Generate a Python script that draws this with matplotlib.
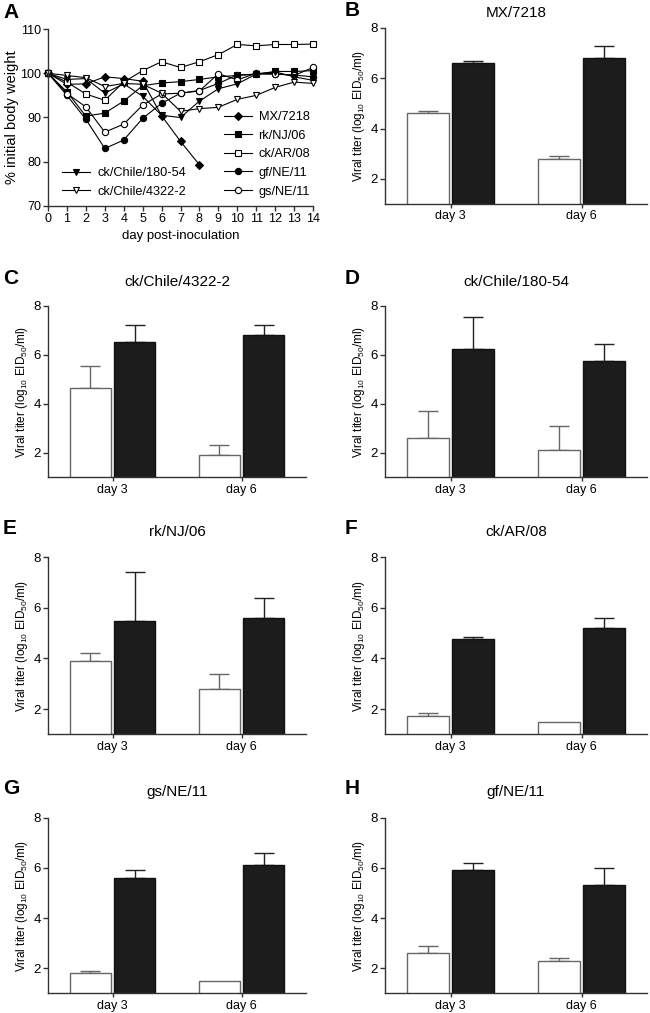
import numpy as np
import matplotlib
matplotlib.use('Agg')
import matplotlib.pyplot as plt

plt.rcParams['font.family'] = ['Liberation Sans', 'DejaVu Sans']
plt.rcParams['mathtext.fontset'] = 'custom'
plt.rcParams['mathtext.rm'] = 'Liberation Sans'
plt.rcParams['mathtext.it'] = 'Liberation Sans'
plt.rcParams['axes.linewidth'] = 1.0

# ---- panel A: body weight ----
days = np.arange(15)
mx7218 = [100, 97.5, 97.6, 99.2, 98.8, 98.2, 90.4, 84.6, 79.3]
rknj06 = [100, 95.8, 90.3, 91.0, 93.7, 97.2, 97.8, 98.1, 98.6, 99.2, 99.5, 99.8, 100.4, 100.4, 100.6]
ckar08 = [100, 98.0, 95.3, 93.9, 98.0, 100.6, 102.6, 101.3, 102.6, 104.2, 106.5, 106.2, 106.5, 106.5, 106.6]
gfne11 = [100, 95.0, 89.6, 83.0, 84.9, 89.8, 93.2, 95.5, 96.1, 97.7, 99.6, 99.8, 99.8, 99.6, 99.2]
gsne11 = [100, 95.4, 92.4, 86.7, 88.5, 92.8, 95.3, 95.5, 96.0, 99.9, 98.5, 100.0, 99.9, 99.5, 101.3]
chile18054 = [100, 98.6, 98.8, 95.5, 97.6, 94.8, 90.5, 90.0, 93.7, 96.5, 97.6, 99.8, 100.3, 99.2, 98.4]
chile4322 = [100, 99.5, 99.0, 97.0, 97.7, 97.5, 95.5, 91.4, 92.0, 92.3, 94.1, 95.0, 96.8, 98.0, 97.7]

# ---- panels B-H: viral titers (white / black bars) ----
groups = ['day 3', 'day 6']
bar_titles = ['MX/7218', 'ck/Chile/4322-2', 'ck/Chile/180-54', 'rk/NJ/06',
              'ck/AR/08', 'gs/NE/11', 'gf/NE/11']
bar_letters = ['B', 'C', 'D', 'E', 'F', 'G', 'H']
white_vals = [[4.6, 2.8], [4.65, 1.9], [2.6, 2.1], [3.9, 2.8], [1.72, 1.5], [1.8, 1.5], [2.6, 2.3]]
white_err = [[0.1, 0.1], [0.9, 0.4], [1.1, 1.0], [0.3, 0.6], [0.13, 0.0], [0.1, 0.0], [0.3, 0.1]]
black_vals = [[6.6, 6.8], [6.5, 6.82], [6.25, 5.75], [5.5, 5.6], [4.75, 5.2], [5.6, 6.1], [5.9, 5.3]]
black_err = [[0.1, 0.5], [0.72, 0.4], [1.3, 0.7], [1.9, 0.8], [0.1, 0.4], [0.3, 0.5], [0.3, 0.7]]

W, H = 650, 1013
fig = plt.figure(figsize=(W / 100, H / 100), dpi=100)

def px_axes(left, top, right, bottom):
    return fig.add_axes([left / W, 1 - bottom / H, (right - left) / W, (bottom - top) / H])

SPINE = '#333333'

def style(ax):
    for s in ['top', 'right']:
        ax.spines[s].set_visible(False)
    for s in ['left', 'bottom']:
        ax.spines[s].set_color(SPINE)
    ax.tick_params(direction='out', length=3.5, width=1.0, color=SPINE)

# panel A
axA = px_axes(48, 29, 313, 206)
style(axA)
series = [
    (mx7218, 'D', 'k', 'MX/7218', 4.2),
    (rknj06, 's', 'k', 'rk/NJ/06', 4.5),
    (ckar08, 's', 'w', 'ck/AR/08', 4.5),
    (gfne11, 'o', 'k', 'gf/NE/11', 4.5),
    (gsne11, 'o', 'w', 'gs/NE/11', 4.5),
    (chile18054, 'v', 'k', 'ck/Chile/180-54', 5),
    (chile4322, 'v', 'w', 'ck/Chile/4322-2', 5),
]
handles = {}
for vals, mk, fc, lab, ms in series:
    h, = axA.plot(days[:len(vals)], vals, marker=mk, color='k', mfc=fc, mec='k',
                  lw=0.8, ms=ms, mew=0.8, label=lab, clip_on=False)
    handles[lab] = h
axA.set_xlim(0, 14)
axA.set_ylim(70, 110)
axA.set_xticks(days)
axA.set_yticks([70, 80, 90, 100, 110])
axA.tick_params(labelsize=9, pad=1.5)
axA.set_xlabel('day post-inoculation', fontsize=9.5, labelpad=4)
axA.set_ylabel('% initial body weight', fontsize=10.5, labelpad=1)
right_labels = ['MX/7218', 'rk/NJ/06', 'ck/AR/08', 'gf/NE/11', 'gs/NE/11']
leg1 = axA.legend([handles[k] for k in right_labels], right_labels,
                  loc='upper left', bbox_to_anchor=(224 / W, 1 - 111 / H), bbox_transform=fig.transFigure,
                  frameon=False, fontsize=9.2, handlelength=2.2, handletextpad=0.5,
                  labelspacing=0.52, borderpad=0, borderaxespad=0)
axA.add_artist(leg1)
left_labels = ['ck/Chile/180-54', 'ck/Chile/4322-2']
axA.legend([handles[k] for k in left_labels], left_labels,
           loc='upper left', bbox_to_anchor=(62 / W, 1 - 167 / H), bbox_transform=fig.transFigure,
           frameon=False, fontsize=9.2, handlelength=2.2, handletextpad=0.6,
           labelspacing=0.52, borderpad=0, borderaxespad=0)
fig.text(3 / W, 1 - 12 / H, 'A', fontsize=15, fontweight='bold', va='center', ha='left')

# bar panels
rows = [(28, 204), (305.7, 477.3), (557.3, 734.3), (817.7, 993.3)]
title_y = [13, 282, 532, 792]
cols = [(48, 306), (385, 647)]
slots = [(0, 1), (1, 0), (1, 1), (2, 0), (2, 1), (3, 0), (3, 1)]
x = np.arange(len(groups))
bw = 0.315
off = 0.172
for i, (r, c) in enumerate(slots):
    top, bot = rows[r]
    left, right = cols[c]
    ax = px_axes(left, top, right, bot)
    style(ax)
    ax.bar(x - off, white_vals[i], bw, bottom=0, color='white', edgecolor='#666666', lw=1.0, zorder=2)
    ax.bar(x + off, black_vals[i], bw, bottom=0, color='#1c1c1c', edgecolor='#111111', lw=1.0, zorder=2)
    for j in range(len(groups)):
        if white_err[i][j] > 0:
            ax.errorbar(x[j] - off, white_vals[i][j], yerr=[[0], [white_err[i][j]]], fmt='none',
                        ecolor='#666666', elinewidth=1.0, capsize=7.5, capthick=1.0, zorder=1)
        if black_err[i][j] > 0:
            ax.errorbar(x[j] + off, black_vals[i][j], yerr=[[0], [black_err[i][j]]], fmt='none',
                        ecolor='#222222', elinewidth=1.0, capsize=7.5, capthick=1.0, zorder=1)
    ax.set_xlim(-0.5, 1.5)
    ax.set_ylim(1, 8)
    ax.set_yticks([2, 4, 6, 8])
    ax.set_xticks(x)
    ax.set_xticklabels(groups)
    ax.tick_params(axis='y', labelsize=9.5, pad=1.5)
    ax.tick_params(axis='x', labelsize=9, pad=1.5, length=3)
    ax.set_ylabel(r'Viral titer (log$_{10}$ EID$_{50}$/ml)', fontsize=8.5, labelpad=3)
    ty = title_y[r]
    fig.text((left + right) / 2 / W, 1 - ty / H, bar_titles[i], fontsize=11,
             ha='center', va='center')
    lx = 3 if c == 0 else 345
    fig.text(lx / W, 1 - (ty - 3) / H, bar_letters[i], fontsize=15, fontweight='bold',
             va='center', ha='left')

fig.savefig('out.png', dpi=100)
